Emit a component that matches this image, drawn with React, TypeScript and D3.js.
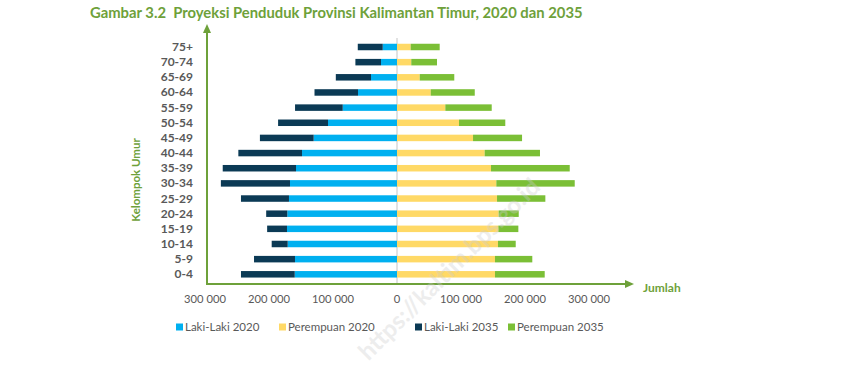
import React from "react";
import * as d3 from "d3";

const ageGroups = ["75+", "70-74", "65-69", "60-64", "55-59", "50-54", "45-49", "40-44", "35-39", "30-34", "25-29", "20-24", "15-19", "10-14", "5-9", "0-4"];
const male2020 = [22300, 25000, 40600, 60900, 84800, 107800, 130200, 148400, 157800, 167200, 168800, 171400, 171900, 170800, 159400, 159800];
const male2035 = [39000, 40000, 55000, 68000, 74500, 78000, 84000, 99500, 114500, 108000, 75000, 33000, 31000, 25000, 64000, 84000];
const female2020 = [21400, 22300, 35500, 52700, 75500, 96900, 118800, 137000, 146900, 155200, 156300, 158900, 158300, 157800, 153100, 153100];
const female2035 = [45300, 40200, 54000, 68800, 72500, 72300, 76600, 86400, 123000, 122500, 75500, 31300, 31300, 27700, 58300, 77700];
const tickValues = [-300000, -200000, -100000, 0, 100000, 200000, 300000];
const legendItems = ["Laki-Laki 2020", "Perempuan 2020", "Laki-Laki 2035", "Perempuan 2035"];

const C_BLUE = "#00b0f0";
const C_NAVY = "#0b3a55";
const C_YELLOW = "#ffd966";
const C_GREEN = "#7bbf36";
const C_AXIS = "#6ea13a";
const C_TEXT = "#595959";
const FONT = "Lato, 'Open Sans', sans-serif";

export default function App() {
  const W = 864, H = 382;
  const x = d3.scaleLinear().domain([-300000, 300000]).range([205, 589]);
  const y = d3.scalePoint<string>().domain(ageGroups).range([47, 274.3]);
  const barH = 6.5;

  const rows = ageGroups.map((a, i) => ({
    age: a,
    m2020: male2020[i], m2035: male2035[i],
    f2020: female2020[i], f2035: female2035[i],
  }));
  const maleStack = d3.stack<any>().keys(["m2020", "m2035"])(rows);
  const femaleStack = d3.stack<any>().keys(["f2020", "f2035"])(rows);
  const maleColors = [C_BLUE, C_NAVY];
  const femaleColors = [C_YELLOW, C_GREEN];

  const fmt = (v: number) => d3.format(",")(Math.abs(v)).replace(/,/g, " ");

  const legendX = [176, 279, 415, 508];
  const legendColors = [C_BLUE, C_YELLOW, C_NAVY, C_GREEN];

  return (
    <svg width={W} height={H} style={{ position: "absolute", left: 0, top: 0, background: "#fff" }} fontFamily={FONT}>
      <rect width={W} height={H} fill="#fff" />
      <text x={90} y={18} fontSize={14.8} fontWeight={700} fill={C_AXIS} style={{ whiteSpace: "pre" }}>
        {"Gambar 3.2  Proyeksi Penduduk Provinsi Kalimantan Timur, 2020 dan 2035"}
      </text>

      {/* center line */}
      <line x1={x(0)} x2={x(0)} y1={38} y2={284} stroke="#d9d9d9" strokeWidth={1.5} />

      {maleStack.map((s, si) => (
        <g key={"m" + si} fill={maleColors[si]}>
          {s.map((d: any, i: number) => (
            <rect key={i} x={x(-d[1])} width={x(-d[0]) - x(-d[1])} y={(y(ageGroups[i]) as number) - barH / 2} height={barH} />
          ))}
        </g>
      ))}
      {femaleStack.map((s, si) => (
        <g key={"f" + si} fill={femaleColors[si]}>
          {s.map((d: any, i: number) => (
            <rect key={i} x={x(d[0])} width={x(d[1]) - x(d[0])} y={(y(ageGroups[i]) as number) - barH / 2} height={barH} />
          ))}
        </g>
      ))}

      {/* age labels */}
      {ageGroups.map((a) => (
        <text key={a} x={193} y={(y(a) as number) + 4} textAnchor="end" fontSize={12} fontWeight={700} fill={C_TEXT}>{a}</text>
      ))}

      {/* axes */}
      <line x1={207} x2={207} y1={32} y2={284} stroke={C_AXIS} strokeWidth={2} />
      <path d="M207,24 L203,33 L211,33 Z" fill={C_AXIS} />
      <line x1={206} x2={626} y1={284} y2={284} stroke={C_AXIS} strokeWidth={2} />
      <path d="M634,284 L625,280 L625,288 Z" fill={C_AXIS} />
      <text x={643} y={292} fontSize={12} fontWeight={700} fill={C_AXIS}>Jumlah</text>

      <text transform="translate(140,180) rotate(-90)" textAnchor="middle" fontSize={11.5} fontWeight={700} fill={C_AXIS}>Kelompok Umur</text>

      {/* tick labels */}
      {tickValues.map((t) => (
        <text key={t} x={x(t)} y={303} textAnchor="middle" fontSize={11.2} fill={C_TEXT}>{fmt(t)}</text>
      ))}

      {/* legend */}
      {legendItems.map((l, i) => (
        <g key={l}>
          <rect x={legendX[i]} y={323.5} width={7} height={7} fill={legendColors[i]} />
          <text x={legendX[i] + 9} y={331} fontSize={11.5} fill={C_TEXT}>{l}</text>
        </g>
      ))}

      {/* watermark */}
      <text transform="translate(455,275) rotate(-45)" textAnchor="middle" fontSize={24} fontWeight={700} fill="#cccccc" opacity={0.35}>
        https://kaltim.bps.go.id
      </text>
    </svg>
  );
}
